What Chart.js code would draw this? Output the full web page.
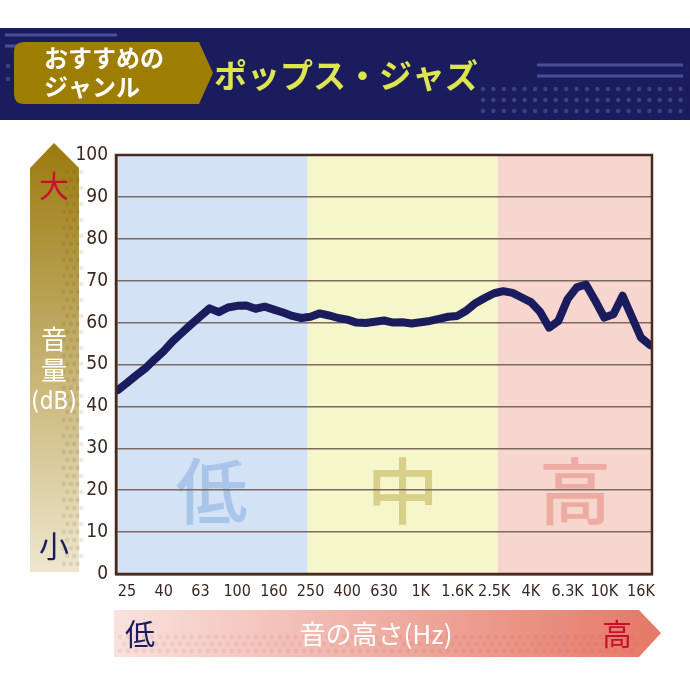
<!DOCTYPE html>
<html>
<head>
<meta charset="utf-8">
<script src="https://cdn.jsdelivr.net/npm/chart.js@4.4.1/dist/chart.umd.min.js"></script>
<style>
  html, body { margin: 0; padding: 0; background: #fff; }
  #wrap { width: 690px; height: 690px; position: relative; }
</style>
</head>
<body>
<div id="wrap"><canvas id="grafico"></canvas></div>
<script>
// etiquetas del eje X (Hz) y nivel leído cada 1/4 de etiqueta
var tickLabels = ['25', '40', '63', '100', '160', '250', '400', '630', '1K', '1.6K', '2.5K', '4K', '6.3K', '10K', '16K'];
var yTicks = [0, 10, 20, 30, 40, 50, 60, 70, 80, 90, 100];
var levels = [
    43.9, 45.6, 47.4, 49.1, 51.2, 53.2, 55.6, 57.6, 59.6, 61.5,
    63.4, 62.5, 63.6, 64.0, 64.1, 63.3, 63.8, 63.1, 62.4, 61.6,
    61.1, 61.4, 62.2, 61.7, 61.1, 60.7, 60.0, 59.9, 60.2, 60.5,
    60.0, 60.1, 59.8, 60.1, 60.4, 60.9, 61.4, 61.6, 62.9, 64.7,
    65.9, 67.0, 67.5, 67.1, 66.0, 64.9, 62.6, 58.8, 60.4, 65.6,
    68.4, 69.1, 65.3, 61.2, 62.0, 66.4, 61.4, 56.4, 54.6
];
var bandEdges = [-0.3, 4.92, 10.1, 14.3];   // 低 / 中 / 高
var bandNames = ['低', '中', '高'];
var bandFill = ['#d3e2f4', '#f5f7ca', '#f6d6ce'];
var bandText = ['#a9c6ea', '#d8d088', '#eeaba1'];

var jp = '"Noto Sans CJK JP", "Noto Sans", sans-serif';
var narrow = '"Liberation Sans Narrow", "DejaVu Sans Condensed", "Roboto", sans-serif';

var puntos = levels.map(function(v, i) { return { x: i / 4 - 0.25, y: v }; });

var decoracion = {
    id: 'decoracion',
    beforeDraw: function(chart) {
        var ctx = chart.ctx, a = chart.chartArea, x = chart.scales.x, y = chart.scales.y;
        ctx.save();

        // cabecera
        ctx.fillStyle = '#1b1c5e';
        ctx.fillRect(0, 28, 690, 92);
        ctx.strokeStyle = '#4a4e98';
        ctx.lineWidth = 3;
        ctx.beginPath();
        ctx.moveTo(5, 35); ctx.lineTo(117, 35);
        ctx.moveTo(5, 46); ctx.lineTo(20, 46);
        ctx.moveTo(537, 65); ctx.lineTo(683, 65);
        ctx.moveTo(537, 76); ctx.lineTo(683, 76);
        ctx.stroke();
        ctx.fillStyle = '#3d4189';
        for (var r = 0; r < 3; r++) {
            for (var c = 0; c < 20; c++) {
                ctx.beginPath();
                ctx.arc(483 + c * 10.4, 89 + r * 11, 2.2, 0, Math.PI * 2);
                ctx.fill();
            }
        }
        ctx.beginPath(); ctx.arc(8, 66, 2.2, 0, Math.PI * 2); ctx.fill();
        ctx.beginPath(); ctx.arc(8, 79, 2.2, 0, Math.PI * 2); ctx.fill();

        // etiqueta dorada
        ctx.fillStyle = '#9e7e00';
        ctx.beginPath();
        ctx.moveTo(24, 42);
        ctx.lineTo(199, 42);
        ctx.lineTo(213, 73);
        ctx.lineTo(199, 104);
        ctx.lineTo(24, 104);
        ctx.quadraticCurveTo(14, 104, 14, 94);
        ctx.lineTo(14, 52);
        ctx.quadraticCurveTo(14, 42, 24, 42);
        ctx.fill();
        ctx.fillStyle = '#ffffff';
        ctx.font = 'bold 24px ' + jp;
        ctx.textAlign = 'left';
        ctx.textBaseline = 'middle';
        ctx.fillText('おすすめの', 44, 58);
        ctx.fillText('ジャンル', 44, 87);
        ctx.fillStyle = '#dde64c';
        ctx.font = 'bold 33px ' + jp;
        ctx.fillText('ポップス・ジャズ', 214, 75);

        // flecha vertical (volumen)
        var gv = ctx.createLinearGradient(0, 143, 0, 572);
        gv.addColorStop(0, '#9b7a0e');
        gv.addColorStop(1, '#eee7cf');
        ctx.fillStyle = gv;
        ctx.beginPath();
        ctx.moveTo(54, 143);
        ctx.lineTo(79, 168);
        ctx.lineTo(79, 572);
        ctx.lineTo(30, 572);
        ctx.lineTo(30, 168);
        ctx.closePath();
        ctx.fill();
        ctx.fillStyle = 'rgba(90, 70, 0, 0.12)';
        for (var yy = 172; yy < 568; yy += 8) {
            for (var xx = 62; xx < 78; xx += 7) {
                ctx.beginPath();
                ctx.arc(xx + ((yy / 8) % 2) * 3.5, yy, 2.3, 0, Math.PI * 2);
                ctx.fill();
            }
        }
        ctx.textAlign = 'center';
        ctx.font = '30px ' + jp;
        ctx.fillStyle = '#c8102e';
        ctx.fillText('大', 54, 186);
        ctx.fillStyle = '#1b1c5e';
        ctx.fillText('小', 54, 546);
        ctx.fillStyle = '#ffffff';
        ctx.font = '26px ' + jp;
        ctx.fillText('音', 54, 339);
        ctx.fillText('量', 54, 370);
        ctx.font = '24px ' + narrow;
        ctx.fillText('(dB)', 54, 403);

        // flecha horizontal (frecuencia)
        var gh = ctx.createLinearGradient(114, 0, 660, 0);
        gh.addColorStop(0, '#f9e2de');
        gh.addColorStop(1, '#e57866');
        ctx.fillStyle = gh;
        ctx.beginPath();
        ctx.moveTo(114, 610);
        ctx.lineTo(639, 610);
        ctx.lineTo(661, 633);
        ctx.lineTo(639, 657);
        ctx.lineTo(114, 657);
        ctx.closePath();
        ctx.fill();
        ctx.fillStyle = 'rgba(200, 80, 70, 0.10)';
        for (var xh = 120; xh < 636; xh += 8) {
            for (var yh = 637; yh < 656; yh += 7) {
                ctx.beginPath();
                ctx.arc(xh + ((yh - 637) / 7 % 2) * 4, yh, 2.4, 0, Math.PI * 2);
                ctx.fill();
            }
        }
        ctx.font = '30px ' + jp;
        ctx.fillStyle = '#1b1c5e';
        ctx.fillText('低', 140, 634);
        ctx.fillStyle = '#c8102e';
        ctx.fillText('高', 617, 634);
        ctx.fillStyle = '#ffffff';
        ctx.font = '26px ' + jp;
        ctx.fillText('音の高さ(Hz)', 376, 634);

        // zonas de fondo
        for (var i = 0; i < 3; i++) {
            var x0 = x.getPixelForValue(bandEdges[i]);
            var x1 = x.getPixelForValue(bandEdges[i + 1]);
            ctx.fillStyle = bandFill[i];
            ctx.fillRect(x0, a.top, x1 - x0, a.bottom - a.top);
            ctx.fillStyle = bandText[i];
            ctx.font = '500 72px ' + jp;
            ctx.fillText(bandNames[i], (x0 + x1) / 2, y.getPixelForValue(20));
        }
        ctx.restore();
    },
    afterDraw: function(chart) {
        var ctx = chart.ctx, a = chart.chartArea;
        ctx.save();
        ctx.strokeStyle = '#4a2a1e';
        ctx.lineWidth = 2.5;
        ctx.strokeRect(a.left, a.top, a.right - a.left, a.bottom - a.top);
        ctx.restore();
    }
};

var miGrafico = new Chart(document.getElementById('grafico'), {
    type: 'line',
    data: {
        datasets: [{
            data: puntos,
            borderColor: '#1b1c5e',
            borderWidth: 8,
            borderJoinStyle: 'round',
            borderCapStyle: 'round',
            pointRadius: 0,
            tension: 0,
            fill: false
        }]
    },
    options: {
        responsive: true,
        maintainAspectRatio: false,
        animation: false,
        layout: { padding: { left: 70, top: 155, right: 38, bottom: 80 } },
        plugins: { legend: { display: false }, tooltip: { enabled: false } },
        scales: {
            x: {
                type: 'linear',
                min: bandEdges[0],
                max: bandEdges[3],
                afterFit: function(s) { s.height = 36; },
                grid: { display: false, drawTicks: false },
                border: { display: true, color: '#4a2a1e', width: 2.5 },
                ticks: {
                    stepSize: 1,
                    includeBounds: false,
                    autoSkip: false,
                    maxRotation: 0,
                    padding: 8,
                    color: '#3a2820',
                    font: { family: narrow, size: 16 },
                    callback: function(v) { return tickLabels[v] || ''; }
                }
            },
            y: {
                min: yTicks[0],
                max: yTicks[yTicks.length - 1],
                afterFit: function(s) { s.width = 46; },
                grid: { color: '#7b6a60', lineWidth: 1.5, drawTicks: false },
                border: { display: true, color: '#4a2a1e', width: 2.5 },
                ticks: {
                    stepSize: 10,
                    padding: 8,
                    color: '#3a2820',
                    font: { family: narrow, size: 19 }
                }
            }
        }
    },
    plugins: [decoracion]
});
</script>
</body>
</html>
